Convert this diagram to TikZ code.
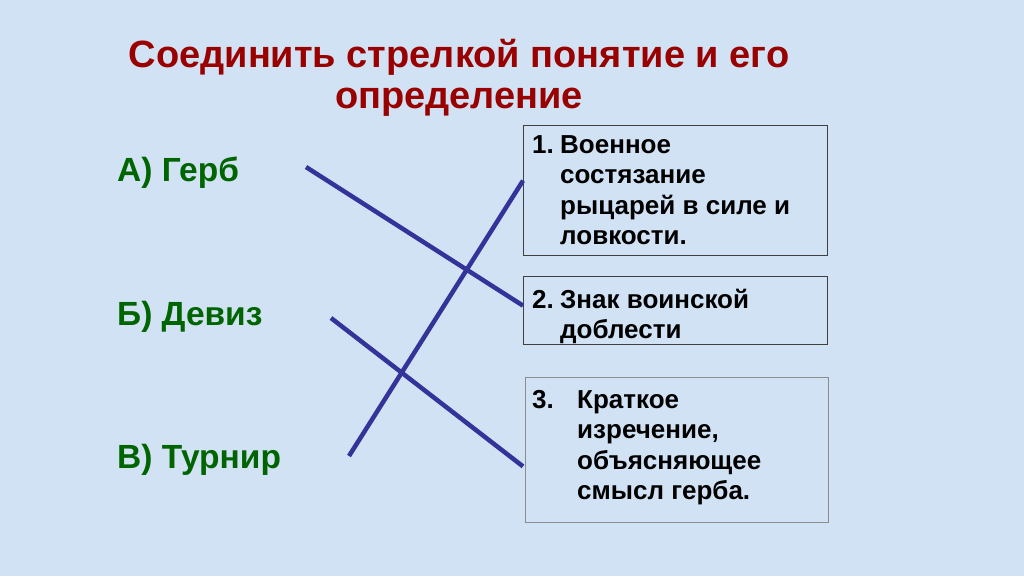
\documentclass[tikz,border=0pt]{standalone}
\usepackage{fontspec}
\setmainfont{Liberation Sans}
\usetikzlibrary{positioning}
\usetikzlibrary{math}
\definecolor{titlered}{RGB}{153,0,0}
\definecolor{termgreen}{RGB}{0,100,0}
\definecolor{linkblue}{RGB}{51,51,153}
\definecolor{slidebg}{RGB}{208,226,244}
\tikzset{termlabel/.style={font=\fontsize{33.5}{40}\selectfont\bfseries, text=termgreen, anchor=base west, inner sep=0pt},
defbox/.style={draw=black!75, line width=1.3pt, anchor=north west, minimum width=304pt, inner sep=0pt},
deftext/.style={font=\fontsize{26}{30.5}\selectfont\bfseries, anchor=base west, inner sep=0pt},
link/.style={draw=linkblue, line width=4.5pt}}

\begin{document}
\begin{tikzpicture}[x=1pt,y=-1pt]
	\tikzmath{\bx=523; \tx=532;}
	\fill[slidebg] (0,0) rectangle (1024,576);
	\useasboundingbox (0,0) rectangle (1024,576);
	\node[font=\fontsize{38}{41}\selectfont\bfseries, text=titlered, align=center, anchor=base] (title) at (459,108) {Соединить стрелкой понятие и его\\определение};
	\node[termlabel] (gerb) at (117,181) {А) Герб};
	\node[termlabel] (deviz) at (117,325) {Б) Девиз};
	\node[termlabel] (turnir) at (117,468) {В) Турнир};
	\node[defbox, minimum height=130pt] (box1) at (\bx,125) {};
	\node[defbox, minimum height=68pt] (box2) at (\bx,276) {};
	\node[defbox, minimum height=145pt, minimum width=303pt, draw=black!45, line width=0.8pt] (box3) at (525,377) {};
	\node[deftext] (def1) at (\tx,153) {\begin{tabular}[t]{@{}p{28pt}@{}l@{}}1.&Военное\\&состязание\\&рыцарей в силе и\\&ловкости.\end{tabular}};
	\node[deftext] (def2) at (\tx,308) {\begin{tabular}[t]{@{}p{28pt}@{}l@{}}2.&Знак воинской\\&доблести\end{tabular}};
	\node[deftext] (def3) at (\tx,408) {\begin{tabular}[t]{@{}p{45pt}@{}l@{}}3.&Краткое\\&изречение,\\&объясняющее\\&смысл герба.\end{tabular}};
	\coordinate (a-start) at (306,167);
	\coordinate (b-start) at (331,318);
	\coordinate (c-start) at (349,456);
	\draw[link] (a-start) -- ([yshift=5pt]box2.west);
	\draw[link] (b-start) -- ([xshift=-2pt,yshift=-16.5pt]box3.west);
	\draw[link] (c-start) -- ([yshift=10pt]box1.west);
	%\node at (title.south) {};
\end{tikzpicture}
\end{document}
